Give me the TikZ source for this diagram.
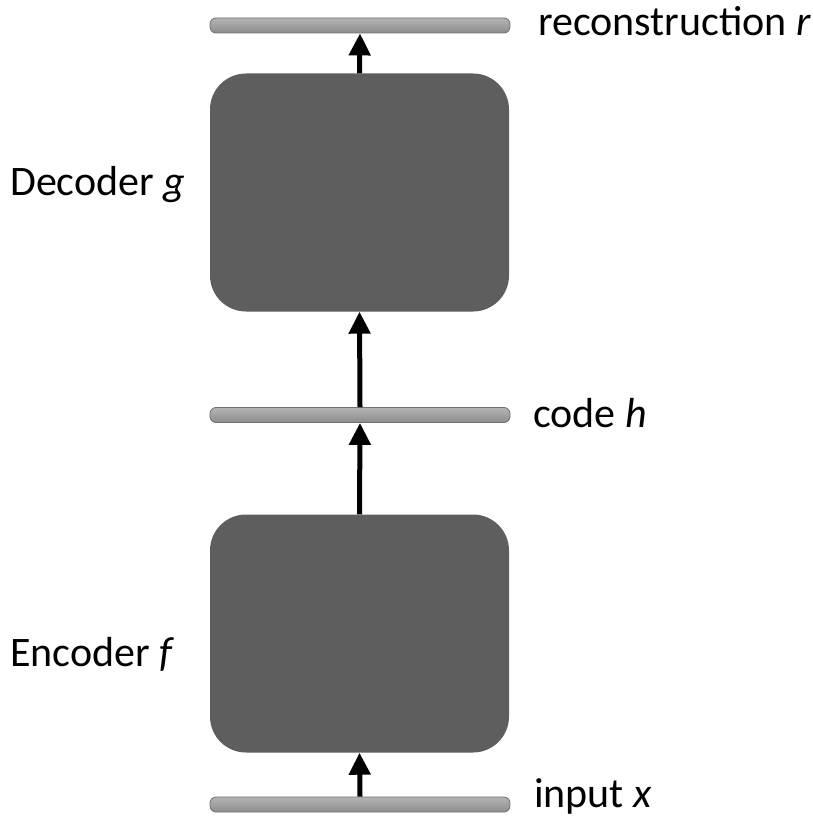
\documentclass[tikz,border=0pt]{standalone}
\usepackage{fontspec}
\setmainfont{Carlito}
\usetikzlibrary{arrows.meta}
\definecolor{boxgray}{HTML}{5E5E5E}
\definecolor{barlight}{HTML}{B4B4B4}
\definecolor{bardark}{HTML}{8C8C8C}
\definecolor{baredge}{HTML}{707070}
\tikzset{
  block/.style={fill=boxgray, draw=none, rounded corners=36pt,
    minimum width=299pt, minimum height=238pt, inner sep=0pt},
  layer/.style={top color=barlight, bottom color=bardark, draw=baredge,
    line width=0.8pt, rounded corners=6pt,
    minimum width=300pt, minimum height=15pt, inner sep=0pt},
  lbl/.style={font=\fontsize{42}{50}\selectfont, inner sep=0pt, anchor=base west},
  flow/.style={line width=5pt, -{Triangle[width=21pt,length=22pt]}},
}
\begin{document}
\begin{tikzpicture}[x=1pt,y=-1pt]
\useasboundingbox[fill=white] (0,0) rectangle (812,821);

% layers (thin bars)
\node[layer] (rec) at (360,25.5) {};
\node[layer] (code) at (360,415) {};
\node[layer] (inp) at (360,804.5) {};

% encoder and decoder blocks
\node[block] (dec) at (359.5,192.5) {};
\node[block] (enc) at (359.5,633.5) {};

% connectors
\draw[flow] (dec.north) -- (rec.south);
\draw[flow] (code.north) -- (dec.south);
\draw[flow] (enc.north) -- (code.south);
\draw[flow] (inp.north) -- (enc.south);

% labels
\node[lbl] (lrec) at (538,36) {reconstruction \textit{r}};
\node[lbl] (ldec) at (10,196) {Decoder \textit{g}};
\node[lbl] (lcode) at (533,427) {code \textit{h}};
\node[lbl] (lenc) at (10,666) {Encoder \textit{f}};
\node[lbl] (linp) at (534,807) {input \textit{x}};
\end{tikzpicture}
\end{document}
